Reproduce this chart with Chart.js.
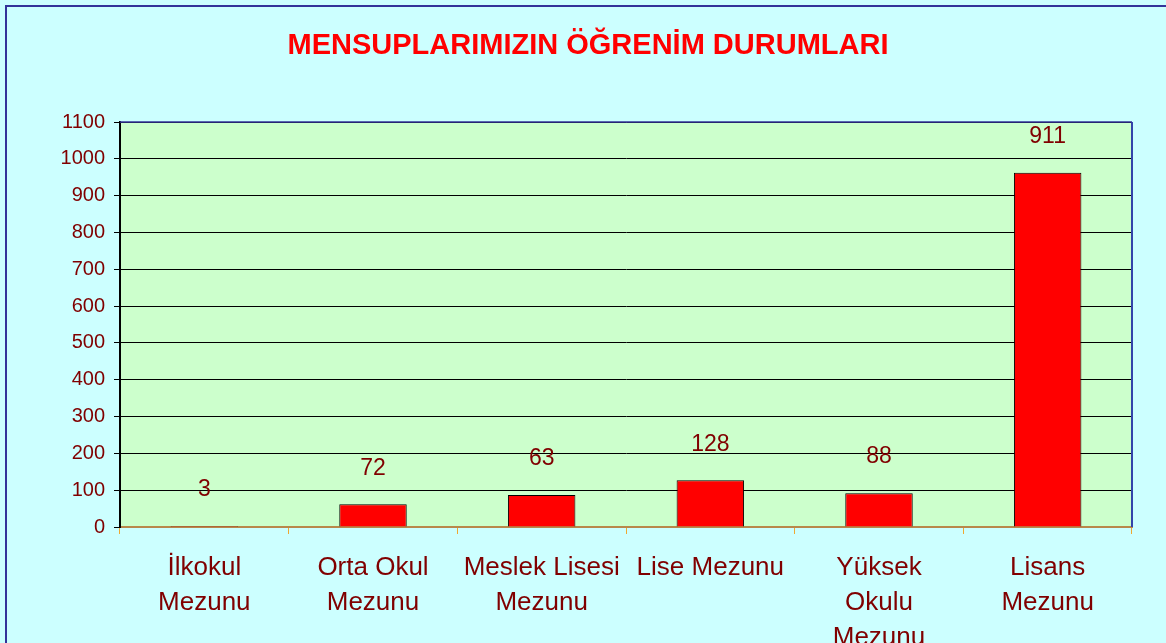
<!DOCTYPE html>
<html>
<head>
<meta charset="utf-8">
<script src="https://cdn.jsdelivr.net/npm/chart.js@4/dist/chart.umd.min.js"></script>
<style>
  html, body { margin: 0; padding: 0; background: #CCFFFF; overflow: hidden; }
  #frame { position: absolute; left: 5px; top: 5px; width: 1170px; height: 650px;
           border-left: 2px solid #333399; border-top: 2px solid #333399; }
  #wrap { position: absolute; left: 0; top: 0; width: 1166px; height: 643px; }
</style>
</head>
<body>
<div id="frame"></div>
<div id="wrap"><canvas id="c" width="1166" height="643"></canvas></div>
<script>
const titleText = "MENSUPLARIMIZIN ÖĞRENİM DURUMLARI";
const categories = [
  ["İlkokul", "Mezunu"],
  ["Orta Okul", "Mezunu"],
  ["Meslek Lisesi", "Mezunu"],
  ["Lise Mezunu"],
  ["Yüksek", "Okulu", "Mezunu"],
  ["Lisans", "Mezunu"]
];
const barValues = [3, 62, 87, 127, 92, 962];
const valueLabels = ["3", "72", "63", "128", "88", "911"];
const yMin = 0, yMax = 1100, yStep = 100;

const textColor = "#800000";
const fontFam = "'Liberation Sans', Arial, sans-serif";

const plotBg = {
  id: "plotBg",
  beforeDraw(chart) {
    const a = chart.chartArea, ctx = chart.ctx;
    ctx.save();
    ctx.fillStyle = "#CCFFCC";
    ctx.fillRect(a.left, a.top, a.right - a.left, a.bottom - a.top);
    // title
    ctx.fillStyle = "#FF0000";
    ctx.font = "bold 29px " + fontFam;
    ctx.textAlign = "center";
    ctx.textBaseline = "middle";
    ctx.fillText(titleText, 588, 46);
    ctx.restore();
  },
  afterDatasetsDraw(chart) {
    const a = chart.chartArea, ctx = chart.ctx;
    ctx.save();
    ctx.strokeStyle = "#3344AA";
    ctx.lineWidth = 2;
    ctx.beginPath();
    ctx.moveTo(a.right, a.top);
    ctx.lineTo(a.right, a.bottom);
    ctx.stroke();
    ctx.strokeStyle = "#333399";
    ctx.lineWidth = 1.5;
    ctx.beginPath();
    ctx.moveTo(a.left, a.top);
    ctx.lineTo(a.right, a.top);
    ctx.stroke();
    // value labels
    const meta = chart.getDatasetMeta(0);
    ctx.fillStyle = textColor;
    ctx.font = "23px " + fontFam;
    ctx.textAlign = "center";
    ctx.textBaseline = "middle";
    meta.data.forEach((bar, i) => {
      ctx.fillText(valueLabels[i], bar.x, bar.y - 36);
    });
    ctx.restore();
  }
};

new Chart(document.getElementById("c"), {
  type: "bar",
  data: {
    labels: categories,
    datasets: [{
      data: barValues,
      backgroundColor: "#FF0000",
      borderColor: "#000000",
      borderWidth: 1,
      borderSkipped: "bottom",
      categoryPercentage: 1.0,
      barPercentage: 0.40
    }]
  },
  options: {
    responsive: false,
    animation: false,
    devicePixelRatio: 1,
    layout: { padding: { left: 0, right: 34, top: 122, bottom: 0 } },
    plugins: {
      legend: { display: false },
      tooltip: { enabled: false },
      title: { display: false }
    },
    scales: {
      x: {
        offset: true,
        grid: {
          offset: true,
          drawOnChartArea: false,
          drawTicks: true,
          tickLength: 7,
          color: "#F0A830"
        },
        border: { color: "#B8884A", width: 2 },
        ticks: {
          color: textColor,
          font: { family: fontFam, size: 26, lineHeight: 1.35 },
          maxRotation: 0,
          autoSkip: false,
          padding: 16
        },
        afterFit(scale) { scale.height = 116; }
      },
      y: {
        min: yMin,
        max: yMax,
        ticks: {
          stepSize: yStep,
          color: textColor,
          font: { family: fontFam, size: 20 },
          padding: 9,
          callback: (v) => String(v)
        },
        grid: {
          color: "#000000",
          lineWidth: 1,
          tickLength: 6
        },
        border: { color: "#000000", width: 2 },
        afterFit(scale) { scale.width = 120; }
      }
    }
  },
  plugins: [plotBg]
});
</script>
</body>
</html>
